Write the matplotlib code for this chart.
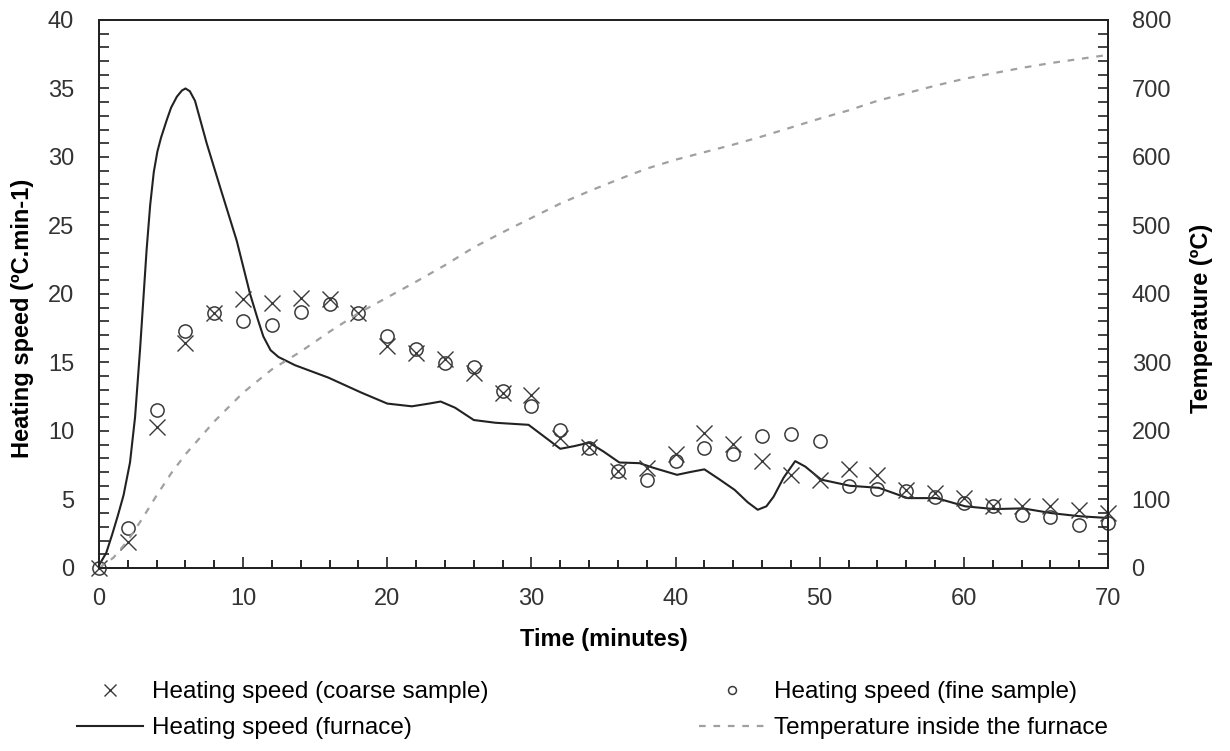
import matplotlib
matplotlib.use("Agg")
import matplotlib.pyplot as plt
from matplotlib.ticker import MultipleLocator

plt.rcParams['font.family'] = ['Liberation Sans', 'DejaVu Sans']

# sample measurements (every 2 minutes)
time_samples = [0, 2, 4, 6, 8, 10, 12, 14, 16, 18, 20, 22, 24, 26, 28, 30, 32, 34,
                36, 38, 40, 42, 44, 46, 48, 50, 52, 54, 56, 58, 60, 62, 64, 66, 68, 70]
coarse_speed = [0, 1.9, 10.3, 16.4, 18.6, 19.6, 19.35, 19.7, 19.6, 18.6, 16.2, 15.7,
                15.25, 14.2, 12.8, 12.6, 9.5, 8.8, 7.05, 7.3, 8.35, 9.85, 9.05, 7.8,
                6.8, 6.45, 7.2, 6.8, 5.7, 5.5, 5.1, 4.5, 4.5, 4.5, 4.25, 4.0]
fine_speed = [0, 2.9, 11.55, 17.3, 18.6, 18.0, 17.7, 18.7, 19.3, 18.6, 16.95, 16.0,
              14.95, 14.7, 12.9, 11.85, 10.1, 8.75, 7.05, 6.45, 7.8, 8.75, 8.35, 9.6,
              9.8, 9.25, 6.0, 5.8, 5.6, 5.2, 4.75, 4.5, 3.9, 3.75, 3.15, 3.3]

# furnace heating speed curve
furnace_time = [0, 0.5, 0.9, 1.3, 1.7, 2.15, 2.5, 2.85, 3.1, 3.3, 3.55, 3.8, 4.05,
                4.3, 4.7, 5.0, 5.4, 5.75, 6.0, 6.3, 6.66, 7.0, 7.47, 8.4, 9.55, 10.48,
                11.0, 11.4, 11.9, 12.45, 13.6, 15.9, 18.2, 20, 21.7, 22.9, 23.7, 24.7,
                26, 27.5, 29.8, 31, 32, 33, 34, 35, 36.1, 37.5, 38.5, 40.1, 41, 42, 43,
                44.1, 45, 45.7, 46.3, 46.8, 47.5, 48.3, 49, 50.1, 52.1, 54.1, 56.1,
                58.1, 60.1, 62.1, 64.1, 66.1, 68.1, 70]
furnace_speed = [0.2, 1.1, 2.4, 3.8, 5.3, 7.7, 11.0, 16.0, 20.0, 23.2, 26.5, 28.9,
                 30.4, 31.4, 32.7, 33.6, 34.4, 34.85, 35.0, 34.8, 34.1, 32.8, 31.0, 27.8,
                 23.9, 20.0, 18.2, 16.9, 15.9, 15.4, 14.8, 13.9, 12.8, 12.0, 11.8, 12.0,
                 12.15, 11.7, 10.8, 10.6, 10.45, 9.5, 8.7, 8.9, 9.15, 8.5, 7.7, 7.65,
                 7.3, 6.8, 7.0, 7.2, 6.5, 5.7, 4.8, 4.25, 4.5, 5.2, 6.6, 7.8, 7.4, 6.45,
                 6.0, 5.85, 5.1, 5.1, 4.5, 4.3, 4.35, 4.0, 3.77, 3.65]

# temperature inside the furnace
temp_time = [0, 1, 2, 3, 4, 5, 6, 8, 10, 12, 14, 16, 18, 20, 22, 24, 26, 28, 30, 32,
             34, 36, 38, 40, 42, 44, 46, 48, 50, 52, 54, 56, 58, 60, 62, 64, 66, 68, 70]
temp_furnace = [0, 15, 40, 72, 106, 138, 166, 214, 256, 290, 316, 345, 372, 395, 418,
                442, 468, 490, 511, 532, 550, 567, 583, 596, 607, 618, 630, 643, 656,
                668, 682, 693, 704, 714, 722, 730, 737, 743, 749]

fig = plt.figure(figsize=(12.3, 7.51), dpi=100)
ax = fig.add_axes([0.0805, 0.2437, 0.8203, 0.7297])
ax2 = ax.twinx()

h_coarse, = ax.plot(time_samples, coarse_speed, linestyle='none', marker='x',
                    markersize=11, markeredgewidth=1.0, color='#3a3a3a',
                    label='Heating speed (coarse sample)', zorder=4, clip_on=False)
h_fine, = ax.plot(time_samples, fine_speed, linestyle='none', marker='o',
                  markersize=9.5, markeredgewidth=1.1, markerfacecolor='none',
                  markeredgecolor='#3a3a3a', label='Heating speed (fine sample)',
                  zorder=4, clip_on=False)
h_furn, = ax.plot(furnace_time, furnace_speed, color='#222222', linewidth=1.5,
                  label='Heating speed (furnace)', zorder=3)
h_temp, = ax2.plot(temp_time, temp_furnace, color='#a0a0a0', linewidth=1.6,
                   dashes=(3, 3.5), label='Temperature inside the furnace')

ax.set_xlim(0, 70)
ax.set_ylim(0, 40)
ax2.set_ylim(0, 800)
ax.xaxis.set_major_locator(MultipleLocator(10))
ax.xaxis.set_minor_locator(MultipleLocator(2))
ax.yaxis.set_major_locator(MultipleLocator(5))
ax.yaxis.set_minor_locator(MultipleLocator(1))
ax2.yaxis.set_major_locator(MultipleLocator(100))
ax2.yaxis.set_minor_locator(MultipleLocator(20))

ax.tick_params(axis='x', which='major', direction='in', length=8, width=1.2,
               labelsize=17, pad=14.5, colors='#222222', labelcolor='#333333')
ax.tick_params(axis='x', which='minor', direction='in', length=6, width=1.2)
ax.tick_params(axis='y', which='both', direction='in', length=7, width=1.2,
               labelsize=17, pad=18, colors='#222222', labelcolor='#333333')
ax2.tick_params(axis='y', which='both', direction='in', length=7, width=1.2,
                labelsize=17, pad=17, colors='#222222', labelcolor='#333333')
for a in (ax, ax2):
    for s in a.spines.values():
        s.set_linewidth(1.4)
        s.set_color('#222222')

ax.set_xlabel('Time (minutes)', fontsize=17, fontweight='bold')
ax.set_ylabel('Heating speed (ºC.min-1)', fontsize=17, fontweight='bold')
ax2.set_ylabel('Temperature (ºC)', fontsize=17, fontweight='bold')
ax.xaxis.set_label_coords(0.5, -0.109)
ax.yaxis.set_label_coords(-0.064, 0.455)
ax2.yaxis.set_label_coords(1.081, 0.455)

leg_style = dict(loc='upper left', frameon=False, fontsize=17.5, borderpad=0,
                 borderaxespad=0, handlelength=2.7, handletextpad=0.4,
                 labelspacing=0.57)
leg1 = fig.legend(handles=[h_coarse, h_furn], bbox_to_anchor=(0.0626, 0.093),
                  markerscale=0.85, **leg_style)
leg2 = fig.legend(handles=[h_fine, h_temp], bbox_to_anchor=(0.5683, 0.093),
                  markerscale=0.6, **leg_style)

fig.savefig('out.png', dpi=100)
